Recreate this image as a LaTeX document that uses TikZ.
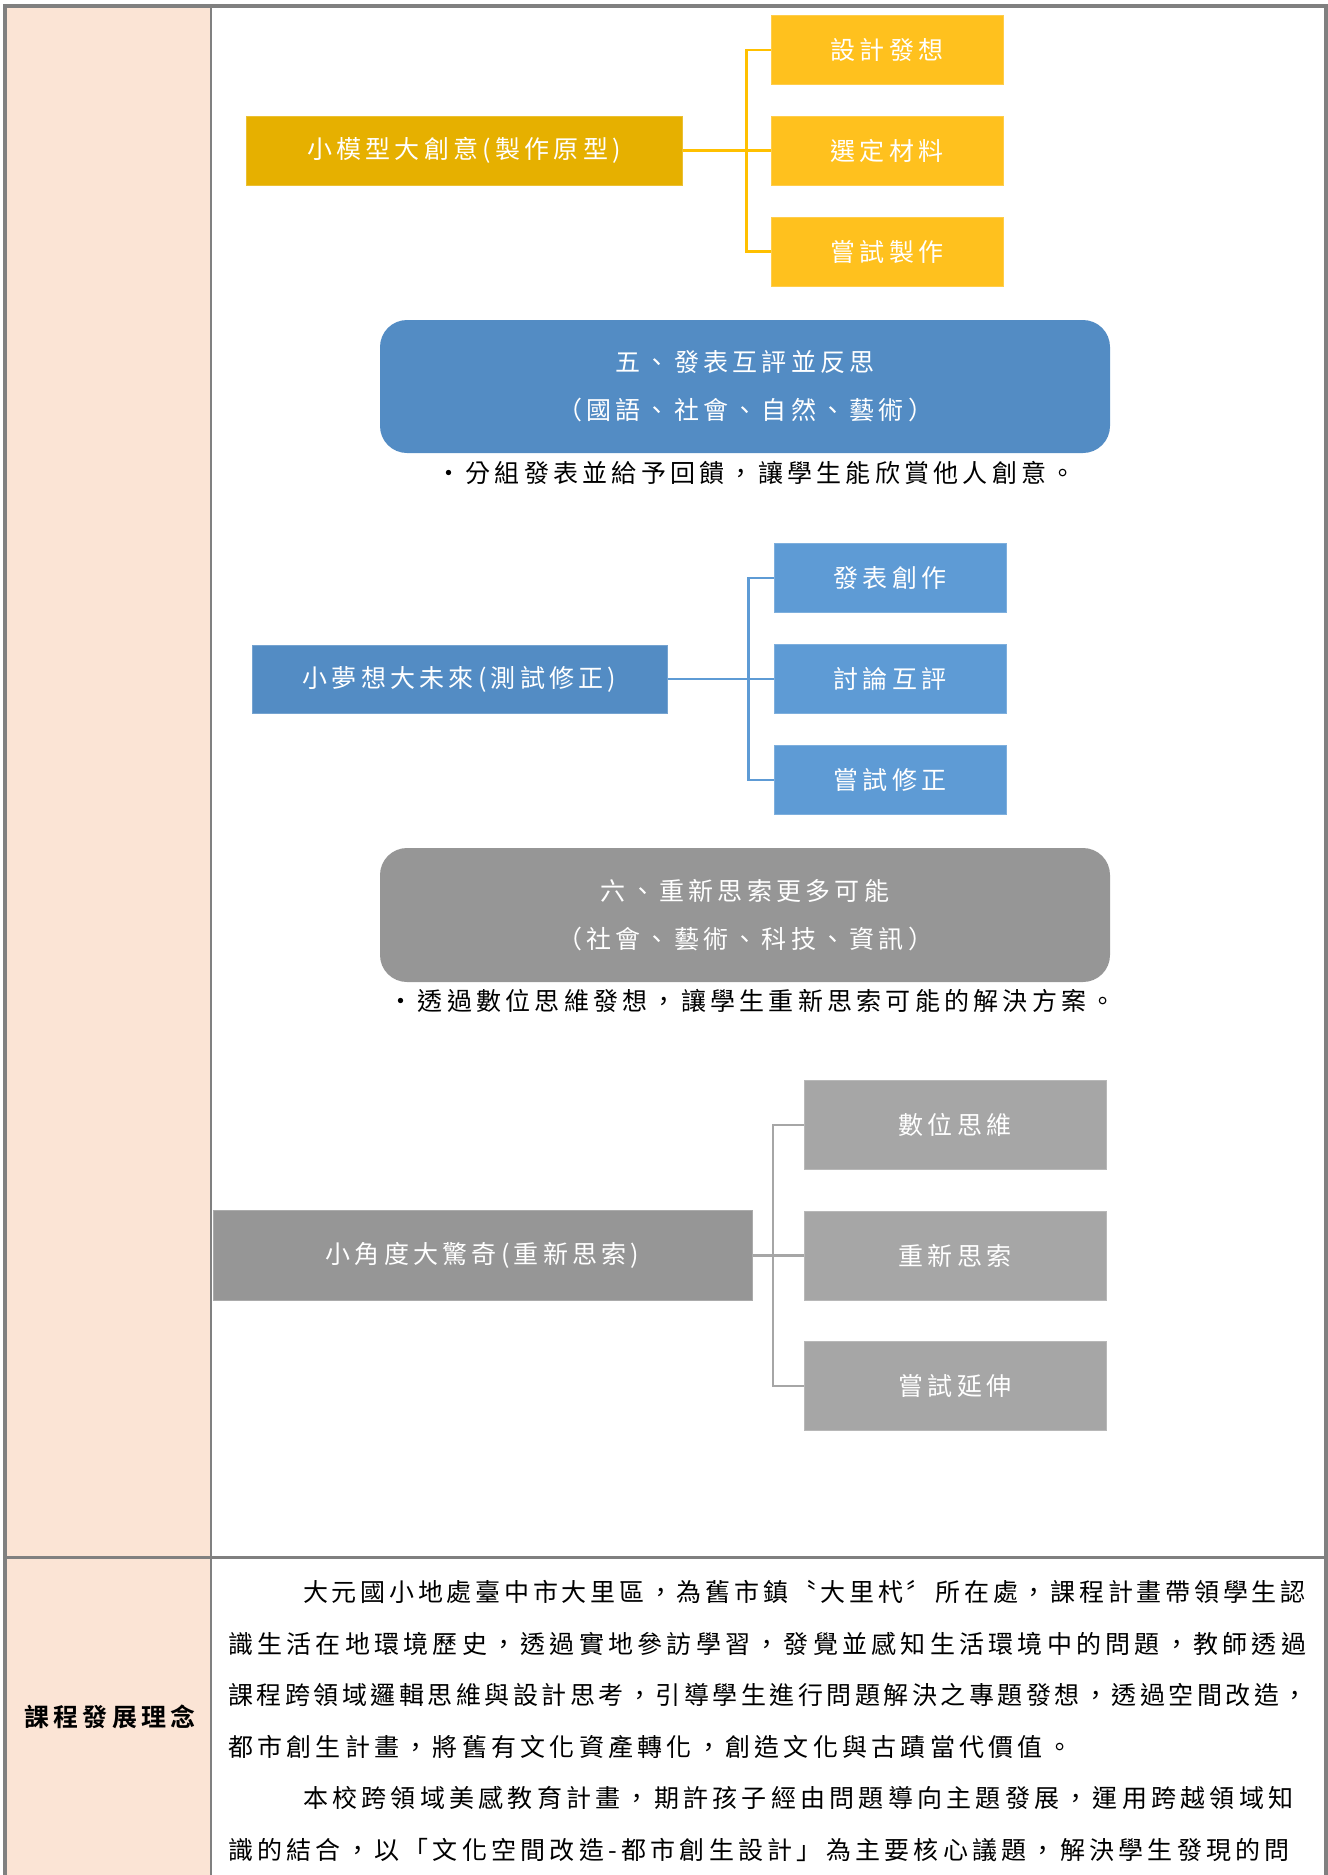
\documentclass[tikz,border=0pt]{standalone}
\usepackage{fontspec}
\setmainfont{Noto Sans CJK TC}[LetterSpace=17, BoldFont={Noto Sans CJK TC Bold}]
\newfontfamily\firstline{Noto Sans CJK TC}[LetterSpace=15]
\newfontfamily\thirdline{Noto Sans CJK TC}[LetterSpace=14]

\definecolor{pinkbg}{HTML}{FBE4D5}
\definecolor{rulegray}{HTML}{808080}
\definecolor{ydark}{HTML}{E6B000}
\definecolor{ylight}{HTML}{FFC11E}
\definecolor{yline}{HTML}{FFC000}
\definecolor{bdark}{HTML}{538CC4}
\definecolor{blight}{HTML}{5E9BD5}
\definecolor{gdark}{HTML}{969696}
\definecolor{glight}{HTML}{A6A6A6}

\newcommand{\boxfont}{\fontsize{25}{48}\selectfont}

\begin{document}
\begin{tikzpicture}[x=1pt, y=-1pt,
    box/.style = {text=white, inner sep=0pt, line width=1pt, font=\boxfont},
    main/.style = {box, fill=#1, draw=#1!80!white},
    leaf/.style = {box, fill=#1, draw=#1!80!white, minimum width=232pt, minimum height=69pt},
    panel/.style = {box, fill=#1, rounded corners=27pt, minimum width=730pt, minimum height=133pt, align=center},
    note/.style = {inner sep=0pt, font=\boxfont},
    link/.style = {draw=#1, line width=2.8pt},
    row/.style = {anchor=west, inner sep=0pt, font=\boxfont}]

    \useasboundingbox (0,0) rectangle (1328,1875);

    % Table
    \fill[pinkbg] (6,7) rectangle (210,1875);
    \draw[rulegray, line width=4pt] (4.5,1880) -- (4.5,5.5) -- (1326,5.5) -- (1326,1880);
    \draw[rulegray, line width=2.5pt] (211,7) -- (211,1875);
    \draw[rulegray, line width=3pt] (6,1557.5) -- (1324,1557.5);

    % Nodes
    \node[main=ydark, minimum width=436pt, minimum height=69pt] (a0) at (464,150.5) {小模型大創意(製作原型)};
    \node[leaf=ylight] (a1) at (887,50) {設計發想};
    \node[leaf=ylight] (a2) at (887,150.5) {選定材料};
    \node[leaf=ylight] (a3) at (887,251.5) {嘗試製作};

    \node[panel=bdark] (p5) at (745,386.5) {五、發表互評並反思\\（國語、社會、自然、藝術）};
    \node[note] (n5) at (756,473) {•分組發表並給予回饋，讓學生能欣賞他人創意。};

    \node[main=bdark, minimum width=415pt, minimum height=68pt] (b0) at (459.5,679) {小夢想大未來(測試修正)};
    \node[leaf=blight] (b1) at (890,578) {發表創作};
    \node[leaf=blight] (b2) at (890,679) {討論互評};
    \node[leaf=blight] (b3) at (890,780) {嘗試修正};

    \node[panel=gdark, minimum height=134pt] (p6) at (745,915) {六、重新思索更多可能\\（社會、藝術、科技、資訊）};
    \node[note] (n6) at (752,1001) {•透過數位思維發想，讓學生重新思索可能的解決方案。};

    \node[main=gdark, minimum width=539pt, minimum height=90pt] (c0) at (482.5,1255.5) {小角度大驚奇(重新思索)};
    \node[leaf=glight, minimum width=302pt, minimum height=89pt] (c1) at (955,1125) {數位思維};
    \node[leaf=glight, minimum width=302pt, minimum height=89pt] (c2) at (955,1255.5) {重新思索};
    \node[leaf=glight, minimum width=302pt, minimum height=89pt] (c3) at (955,1386) {嘗試延伸};

    % Edges
    \coordinate (af) at (746.5,150.5);
    \draw[link=yline] (a0) -- (af);
    \draw[link=yline] (af) |- (a1);
    \draw[link=yline] (af) -- (a2);
    \draw[link=yline] (af) |- (a3);

    \coordinate (bf) at (748.5,679);
    \draw[link=blight] (b0) -- (bf);
    \draw[link=blight] (bf) |- (b1);
    \draw[link=blight] (bf) -- (b2);
    \draw[link=blight] (bf) |- (b3);

    \coordinate (cf) at (773,1255.5);
    \draw[link=glight] (c0) -- (cf);
    \draw[link=glight] (cf) |- (c1);
    \draw[link=glight] (cf) -- (c2);
    \draw[link=glight] (cf) |- (c3);

    % Bottom row
    \node[inner sep=0pt, font=\boxfont\bfseries] (title) at (110,1717) {課程發展理念};
    \node[row, font=\boxfont\firstline] (l1) at (303,1592) {大元國小地處臺中市大里區，為舊市鎮〝大里杙〞所在處，課程計畫帶領學生認};
    \node[row] (l2) at (228,1643.5) {識生活在地環境歷史，透過實地參訪學習，發覺並感知生活環境中的問題，教師透過};
    \node[row, font=\boxfont\thirdline] (l3) at (228,1695) {課程跨領域邏輯思維與設計思考，引導學生進行問題解決之專題發想，透過空間改造，};
    \node[row] (l4) at (228,1746.5) {都市創生計畫，將舊有文化資產轉化，創造文化與古蹟當代價值。};
    \node[row] (l5) at (303,1798) {本校跨領域美感教育計畫，期許孩子經由問題導向主題發展，運用跨越領域知};
    \node[row] (l6) at (228,1849.5) {識的結合，以「文化空間改造-都市創生設計」為主要核心議題，解決學生發現的問};

\end{tikzpicture}
\end{document}
